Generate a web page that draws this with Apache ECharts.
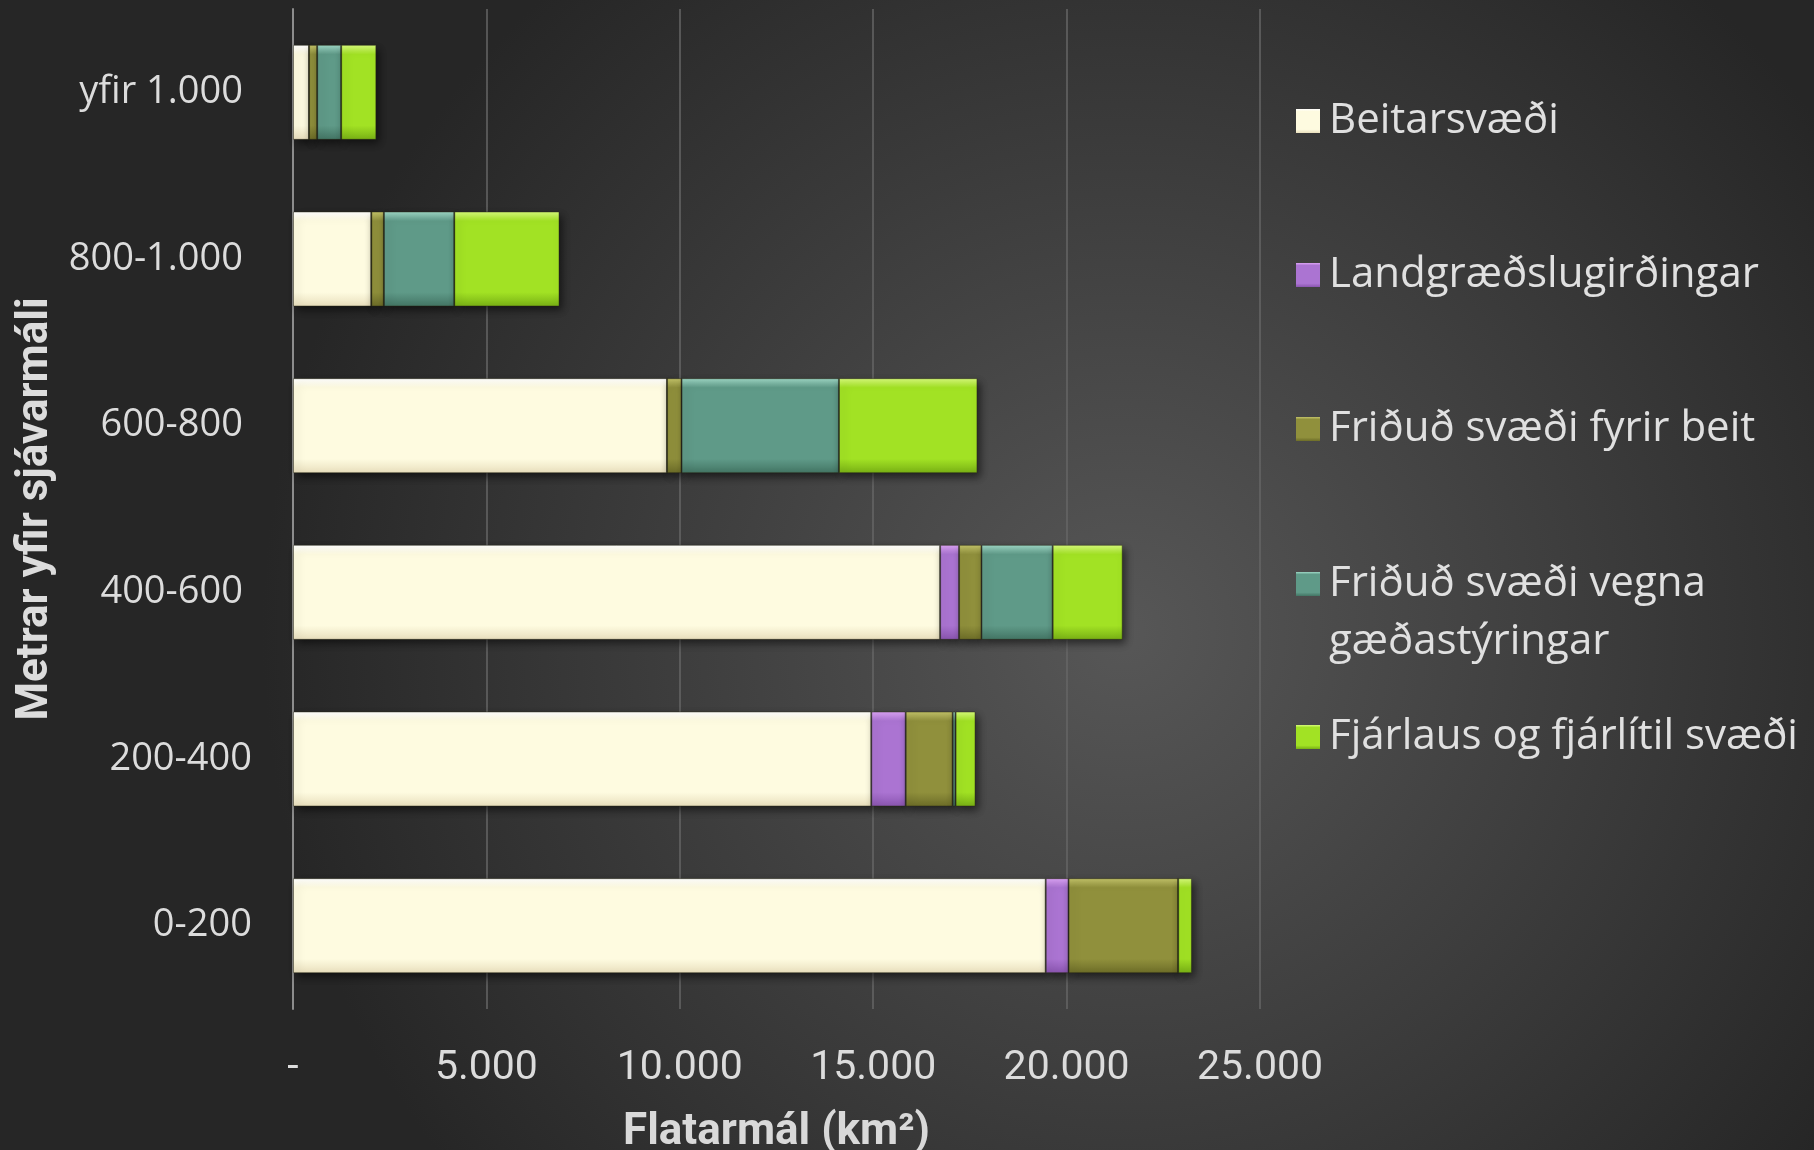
<!DOCTYPE html>
<html>
<head>
<meta charset="utf-8">
<script src="https://cdn.jsdelivr.net/npm/echarts@6/dist/echarts.min.js"></script>
<style>
  html, body { margin: 0; padding: 0; }
  #chart { width: 1814px; height: 1150px; }
</style>
</head>
<body>
<div id="chart"></div>
<script>
// hæðarbil, neðst til efst
var categories = ['0-200', '200-400', '400-600', '600-800', '800-1.000', 'yfir 1.000'];
var seriesNames = ['Beitarsvæði', 'Landgræðslugirðingar', 'Friðuð svæði fyrir beit', 'Friðuð svæði vegna gæðastýringar', 'Fjárlaus og fjárlítil svæði'];
var beitarsvaedi = [19460, 14950, 16730, 9670, 2025, 415];
var landgraedsla = [590, 890, 490, 0, 0, 0];
var fridudBeit = [2835, 1215, 580, 375, 325, 210];
var fridudGaedi = [0, 75, 1840, 4070, 1820, 620];
var fjarlaus = [355, 515, 1810, 3580, 2720, 910];
var xTicks = [0, 5000, 10000, 15000, 20000, 25000];

var values = [beitarsvaedi, landgraedsla, fridudBeit, fridudGaedi, fjarlaus];
// [ljós efst, grunnur, dökkur neðst]
var palette = [
    ['#ffffff', '#fefbe0', '#e9dfbd'],
    ['#dca4f5', '#ab74d2', '#8a55b0'],
    ['#c4c46a', '#90903c', '#6d6d28'],
    ['#9fd8c6', '#5f9a88', '#437564'],
    ['#d8fb7c', '#a2e224', '#78b015']
];

var chart = echarts.init(document.getElementById('chart'));

function grad(c) {
    return new echarts.graphic.LinearGradient(0, 0, 0, 1, [
        { offset: 0, color: c[0] },
        { offset: 0.1, color: c[1] },
        { offset: 0.85, color: c[1] },
        { offset: 1, color: c[2] }
    ]);
}

function fmtNum(v) {
    if (v === 0) return '-';
    return String(v).replace(/\B(?=(\d{3})+(?!\d))/g, '.');
}

// miðja tákns: 116, 270, 424, 579, 732
var legendTops = [87, 241, 395, 492, 703];
var legends = seriesNames.map(function (n, i) {
    return {
        data: [n],
        orient: 'vertical',
        left: 1291,
        top: legendTops[i],
        icon: 'rect',
        itemWidth: 24,
        itemHeight: 24,
        itemStyle: { shadowBlur: 0, shadowOffsetY: 0, shadowOffsetX: 0, borderWidth: 0 },
        formatter: function (name) {
            // auð lína efst svo fyrsta línan standi við táknið
            return name === 'Friðuð svæði vegna gæðastýringar' ? ' \nFriðuð svæði vegna\ngæðastýringar' : name;
        },
        textStyle: {
            color: '#e0e0e0',
            fontFamily: 'Open Sans',
            fontSize: 42,
            lineHeight: 58,
            padding: [0, 0, 0, 4]
        }
    };
});

var series = seriesNames.map(function (n, i) {
    return {
        name: n,
        type: 'bar',
        stack: 'total',
        barWidth: 95,
        data: values[i],
        itemStyle: {
            color: grad(palette[i]),
            borderColor: 'rgba(40,40,20,0.45)',
            borderWidth: 1,
            shadowBlur: 8,
            shadowOffsetX: 3,
            shadowOffsetY: 4,
            shadowColor: 'rgba(0,0,0,0.55)'
        },
        emphasis: { disabled: true }
    };
});

var option = {
    backgroundColor: new echarts.graphic.RadialGradient(0.62, 0.55, 0.75, [
        { offset: 0, color: '#575757' },
        { offset: 1, color: '#262626' }
    ]),
    animation: false,
    legend: legends,
    grid: {
        left: 293,
        right: 554,
        top: 9,
        bottom: 141,
        containLabel: false,
        outerBoundsMode: 'none'
    },
    xAxis: {
        type: 'value',
        min: xTicks[0],
        max: xTicks[xTicks.length - 1],
        interval: 5000,
        name: 'Flatarmál (km²)',
        nameLocation: 'middle',
        nameGap: 102,
        nameTextStyle: {
            color: '#d9d9d9',
            fontFamily: 'Liberation Sans Narrow, Roboto, sans-serif',
            fontWeight: 'bold',
            fontSize: 44
        },
        axisLine: { show: false },
        axisTick: { show: false },
        axisLabel: {
            color: '#dcdcdc',
            fontFamily: 'Liberation Sans Narrow, Roboto, sans-serif',
            fontSize: 41,
            margin: 39,
            formatter: fmtNum
        },
        splitLine: { lineStyle: { color: '#666666', width: 1.5 } }
    },
    yAxis: {
        type: 'category',
        data: categories,
        name: 'Metrar yfir sjávarmáli',
        nameLocation: 'middle',
        nameGap: 231,
        nameTextStyle: {
            color: '#dcdcdc',
            fontFamily: 'Liberation Sans Narrow, Roboto, sans-serif',
            fontWeight: 'bold',
            fontSize: 44
        },
        axisLine: { lineStyle: { color: '#8c8c8c', width: 2 } },
        axisTick: { length: 12, lineStyle: { color: '#8c8c8c', width: 2 } },
        axisLabel: {
            color: '#dcdcdc',
            margin: 41,
            formatter: function (v, idx) {
                return idx < 2 ? '{a|' + v + '}' : '{b|' + v + '}';
            },
            rich: {
                a: { fontFamily: 'Open Sans', fontSize: 38, color: '#dcdcdc' },
                b: { fontFamily: 'Open Sans', fontSize: 38, color: '#dcdcdc', padding: [0, 9, 0, 0] }
            }
        }
    },
    series: series
};

chart.setOption(option);
</script>
</body>
</html>
